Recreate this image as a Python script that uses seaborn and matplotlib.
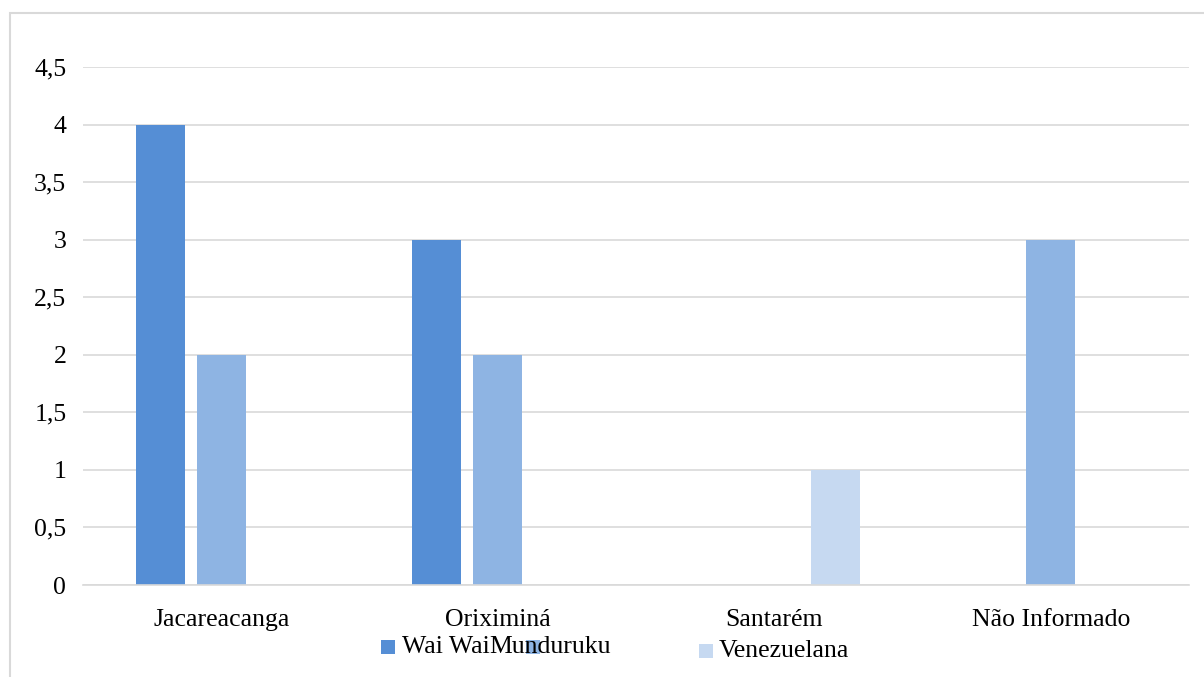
import matplotlib
matplotlib.use("Agg")
import matplotlib.pyplot as plt
from matplotlib.patches import Rectangle
import seaborn as sns
import pandas as pd

# Data
municipios = ["Jacareacanga", "Oriximiná", "Santarém", "Não Informado"]
etnias = ["Wai Wai", "Munduruku", "Venezuelana"]
wai_wai = [4, 3, 0, 0]
munduruku = [2, 2, 0, 3]
venezuelana = [0, 0, 1, 0]
y_ticks = [0, 0.5, 1, 1.5, 2, 2.5, 3, 3.5, 4, 4.5]
y_tick_labels = ["0", "0,5", "1", "1,5", "2", "2,5", "3", "3,5", "4", "4,5"]

cores = ["#558ED5", "#8EB4E3", "#C6D9F1"]

df = pd.DataFrame({
    "Município": municipios * 3,
    "Etnia": [etnias[0]] * 4 + [etnias[1]] * 4 + [etnias[2]] * 4,
    "Valor": wai_wai + munduruku + venezuelana,
})

sns.set_theme(style="white")
plt.rcParams["font.family"] = ["Liberation Serif", "DejaVu Serif"]

W, H = 1204, 677
fig = plt.figure(figsize=(W / 100, H / 100), dpi=100)
ax = fig.add_axes([83 / W, 1 - 585 / H, (1189 - 83) / W, (585 - 67) / H])

sns.barplot(data=df, x="Município", y="Valor", hue="Etnia", order=municipios,
            hue_order=etnias, palette=cores, saturation=1, width=0.662,
            gap=0.198, linewidth=0, ax=ax, legend=False)

ax.set_xlim(-0.5, 3.5)
ax.set_ylim(0, 4.5)
ax.set_yticks(y_ticks)
ax.set_yticklabels(y_tick_labels)
ax.yaxis.grid(True, color="#D9D9D9", linewidth=1.2)
ax.set_axisbelow(True)
for s in ["left", "right", "top"]:
    ax.spines[s].set_visible(False)
ax.spines["bottom"].set_color("#D9D9D9")
ax.spines["bottom"].set_linewidth(1.2)
ax.tick_params(axis="both", length=0, colors="black")
ax.tick_params(axis="y", pad=12, labelsize=18.5)
ax.tick_params(axis="x", pad=17.5, labelsize=18.5)
ax.set_xlabel("")
ax.set_ylabel("")

# Legend along the bottom: entries placed one after another
renderer = fig.canvas.get_renderer()
t1 = fig.text(402 / W, 1 - 647 / H, etnias[0], fontsize=18.5, va="center",
              ha="left", color="black", zorder=3)
x_end = t1.get_window_extent(renderer).x1
fig.text(x_end / W, 1 - 647 / H, etnias[1], fontsize=18.5, va="center",
         ha="left", color="black", zorder=3)
fig.text(719 / W, 1 - 651 / H, etnias[2], fontsize=18.5, va="center",
         ha="left", color="black", zorder=3)

marcadores = [(381, 640, cores[0]), (526, 640, cores[1]), (699, 644, cores[2])]
for mx, my, cor in marcadores:
    fig.add_artist(Rectangle((mx / W, 1 - (my + 14) / H), 14 / W, 14 / H,
                             transform=fig.transFigure, facecolor=cor,
                             edgecolor="none", zorder=2))

# Chart frame
fig.add_artist(Rectangle((10 / W, -0.05), 1.2, 1 - 13 / H + 0.05,
                         transform=fig.transFigure, facecolor="none",
                         edgecolor="#D9D9D9", linewidth=1.5))

fig.savefig("out.png", dpi=100)
